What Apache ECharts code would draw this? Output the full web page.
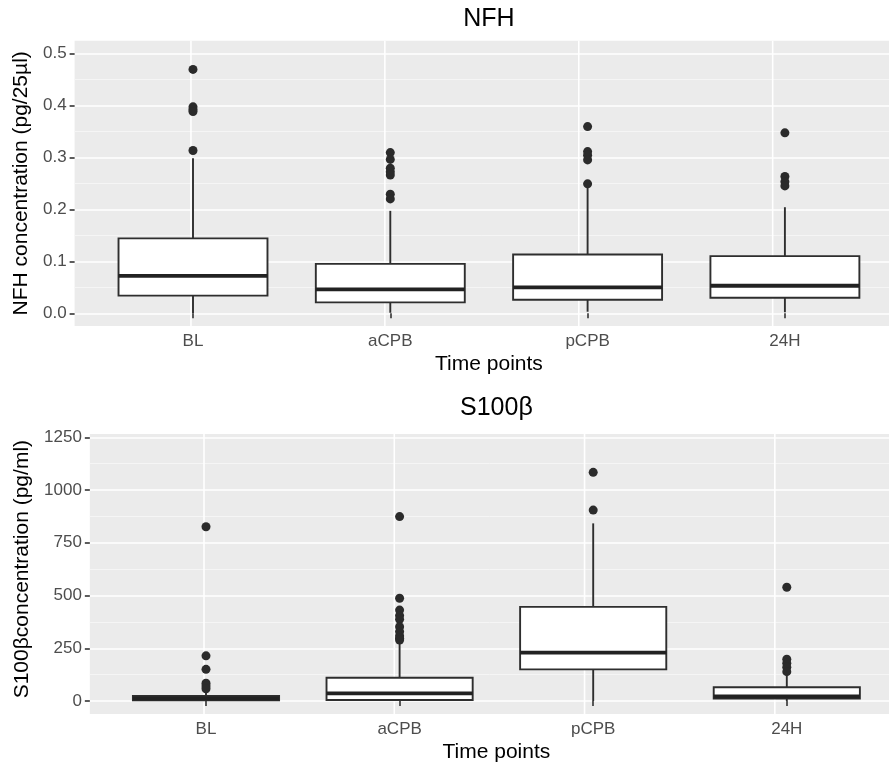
<!DOCTYPE html>
<html><head><meta charset="utf-8">
<script src="https://cdn.jsdelivr.net/npm/echarts@6/dist/echarts.min.js"></script>
<style>html,body{margin:0;padding:0;background:#fff}#c{width:889px;height:764px}</style>
</head><body><div id="c"></div>
<script>
// ---------- data ----------
const categories = ['BL', 'aCPB', 'pCPB', '24H'];

const nfhTicks = [0, 0.1, 0.2, 0.3, 0.4, 0.5];
const nfhMin = [0.000, 0.001, 0.003, 0.002];
const nfhQ1 = [0.034, 0.021, 0.026, 0.030];
const nfhMedian = [0.072, 0.046, 0.050, 0.053];
const nfhQ3 = [0.144, 0.095, 0.113, 0.110];
const nfhMax = [0.298, 0.197, 0.243, 0.204];
const nfhOutliers = [
  [0.469, 0.397, 0.392, 0.388, 0.313],
  [0.309, 0.296, 0.279, 0.272, 0.266, 0.229, 0.220],
  [0.359, 0.311, 0.304, 0.295, 0.249],
  [0.347, 0.263, 0.253, 0.245]
];

const s100Ticks = [0, 250, 500, 750, 1000, 1250];
const s100Min = [0, 0, 0, 0];
const s100Q1 = [3, 5, 150, 12];
const s100Median = [12, 36, 229, 22];
const s100Q3 = [24, 110, 446, 65];
const s100Max = [45, 283, 842, 120];
const s100Outliers = [
  [826, 214, 150, 84, 71, 58],
  [874, 487, 431, 405, 387, 352, 329, 308, 297, 289],
  [1084, 905],
  [539, 198, 179, 160, 139]
];

// ---------- layout ----------
const FONT = '"Liberation Sans", Arial, sans-serif';
const panels = [
  {
    title: 'NFH', yName: 'NFH concentration (pg/25µl)', ticks: nfhTicks,
    min: nfhMin, q1: nfhQ1, med: nfhMedian, q3: nfhQ3, max: nfhMax, out: nfhOutliers,
    fmt: v => v.toFixed(1),
    c0: 193, unit: 197.3, panelTop: 40.7, panelBottom: 326, tickTop: 53.3, tickBottom: 313.3,
    titleTop: 7, yNameGap: 42
  },
  {
    title: 'S100β', yName: 'S100βconcentration (pg/ml)', ticks: s100Ticks,
    min: s100Min, q1: s100Q1, med: s100Median, q3: s100Q3, max: s100Max, out: s100Outliers,
    fmt: v => String(v),
    c0: 206, unit: 193.6, panelTop: 434, panelBottom: 714, tickTop: 437.3, tickBottom: 701,
    titleTop: 396, yNameGap: 57
  }
];

const grid = [], xAxis = [], yAxis = [], series = [], title = [];

panels.forEach((p, k) => {
  const gP = 3 * k, gY = 3 * k + 1, gB = 3 * k + 2;
  const lo = p.ticks[0], hi = p.ticks[p.ticks.length - 1];
  grid.push({ left: p.c0 - 0.6 * p.unit, top: p.panelTop, width: 4.2 * p.unit,
    height: p.panelBottom - p.panelTop, show: true, backgroundColor: '#ebebeb', borderWidth: 0 });
  grid.push({ left: p.c0 - 0.6 * p.unit, top: p.tickTop, width: 4.2 * p.unit,
    height: p.tickBottom - p.tickTop });
  grid.push({ left: p.c0 - 0.5 * p.unit, top: p.tickTop, width: 4 * p.unit,
    height: p.tickBottom - p.tickTop });

  xAxis.push({ gridIndex: gP, type: 'value', min: 0.4, max: 4.6, show: false });
  xAxis.push({ gridIndex: gY, type: 'value', min: 0, max: 1, show: false });
  xAxis.push({
    gridIndex: gB, type: 'category', data: categories, boundaryGap: true,
    offset: p.panelBottom - p.tickBottom,
    axisLine: { show: false },
    axisTick: { show: true, alignWithLabel: true, length: 5, lineStyle: { color: '#333', width: 1.6 } },
    axisLabel: { color: '#4d4d4d', fontSize: 17, margin: 7, fontFamily: FONT },
    splitLine: { show: false },
    name: 'Time points', nameLocation: 'middle', nameGap: 28,
    nameTextStyle: { color: '#000', fontSize: 21, fontFamily: FONT }
  });

  yAxis.push({ gridIndex: gP, type: 'value', min: 0, max: 1, show: false });
  yAxis.push({
    gridIndex: gY, type: 'value', min: lo, max: hi, interval: p.ticks[1] - p.ticks[0],
    axisLine: { show: false },
    axisTick: { show: true, length: 5, lineStyle: { color: '#333', width: 1.6 } },
    axisLabel: { color: '#4d4d4d', fontSize: 17, margin: 8, fontFamily: FONT, formatter: p.fmt },
    splitLine: { show: true, lineStyle: { color: '#ffffff', width: 1.6 } },
    minorTick: { show: false, splitNumber: 2 },
    minorSplitLine: { show: true, lineStyle: { color: '#f8f8f8', width: 0.8 } },
    name: p.yName, nameLocation: 'middle', nameGap: p.yNameGap,
    nameTextStyle: { color: '#000', fontSize: 21, fontFamily: FONT }
  });
  yAxis.push({ gridIndex: gB, type: 'value', min: lo, max: hi, show: false });

  // vertical major gridlines at category positions
  series.push({
    type: 'custom', xAxisIndex: gP, yAxisIndex: gP, silent: true, z: 1,
    data: categories.map((c, i) => [i + 1]),
    encode: { x: 0 },
    renderItem: (params, api) => {
      const cs = params.coordSys;
      const x = api.coord([api.value(0), 0])[0];
      return { type: 'line', shape: { x1: x, y1: cs.y, x2: x, y2: cs.y + cs.height },
        style: { stroke: '#ffffff', lineWidth: 1.6 } };
    }
  });

  // boxes
  series.push({
    type: 'custom', xAxisIndex: gB, yAxisIndex: gB, silent: true, z: 3,
    data: categories.map((c, i) => [i, p.min[i], p.q1[i], p.med[i], p.q3[i], p.max[i]]),
    encode: { x: 0, y: [1, 2, 3, 4, 5] },
    renderItem: (params, api) => {
      const xi = api.value(0);
      const pMin = api.coord([xi, api.value(1)]);
      const pQ1 = api.coord([xi, api.value(2)]);
      const pMed = api.coord([xi, api.value(3)]);
      const pQ3 = api.coord([xi, api.value(4)]);
      const pMax = api.coord([xi, api.value(5)]);
      const w = api.size([1, 0])[0] * 0.755;
      const cx = pMed[0];
      const stroke = '#2e2e2e';
      return {
        type: 'group', children: [
          { type: 'line', shape: { x1: cx, y1: pMax[1], x2: cx, y2: pQ3[1] }, style: { stroke, lineWidth: 1.9 } },
          { type: 'line', shape: { x1: cx, y1: pQ1[1], x2: cx, y2: pMin[1] }, style: { stroke, lineWidth: 1.9 } },
          { type: 'rect', shape: { x: cx - w / 2, y: pQ3[1], width: w, height: pQ1[1] - pQ3[1] },
            style: { fill: '#ffffff', stroke, lineWidth: 1.9 } },
          { type: 'line', shape: { x1: cx - w / 2, y1: pMed[1], x2: cx + w / 2, y2: pMed[1] },
            style: { stroke: '#222222', lineWidth: 3.8 } }
        ]
      };
    }
  });

  // outliers
  const pts = [];
  p.out.forEach((arr, i) => arr.forEach(v => pts.push([i, v])));
  series.push({
    type: 'scatter', xAxisIndex: gB, yAxisIndex: gB, z: 4, silent: true,
    symbol: 'circle', symbolSize: 9,
    itemStyle: { color: '#2b2b2b', opacity: 1 },
    data: pts
  });

  title.push({
    text: p.title, left: p.c0 + 1.5 * p.unit, top: p.titleTop, textAlign: 'center', padding: 0,
    textStyle: { fontSize: 25, fontWeight: 'normal', color: '#000', fontFamily: FONT }
  });
});

const chart = echarts.init(document.getElementById('c'), null, { renderer: 'canvas' });
chart.setOption({
  animation: false,
  backgroundColor: '#ffffff',
  textStyle: { fontFamily: FONT },
  title, grid, xAxis, yAxis, series
});
</script></body></html>
